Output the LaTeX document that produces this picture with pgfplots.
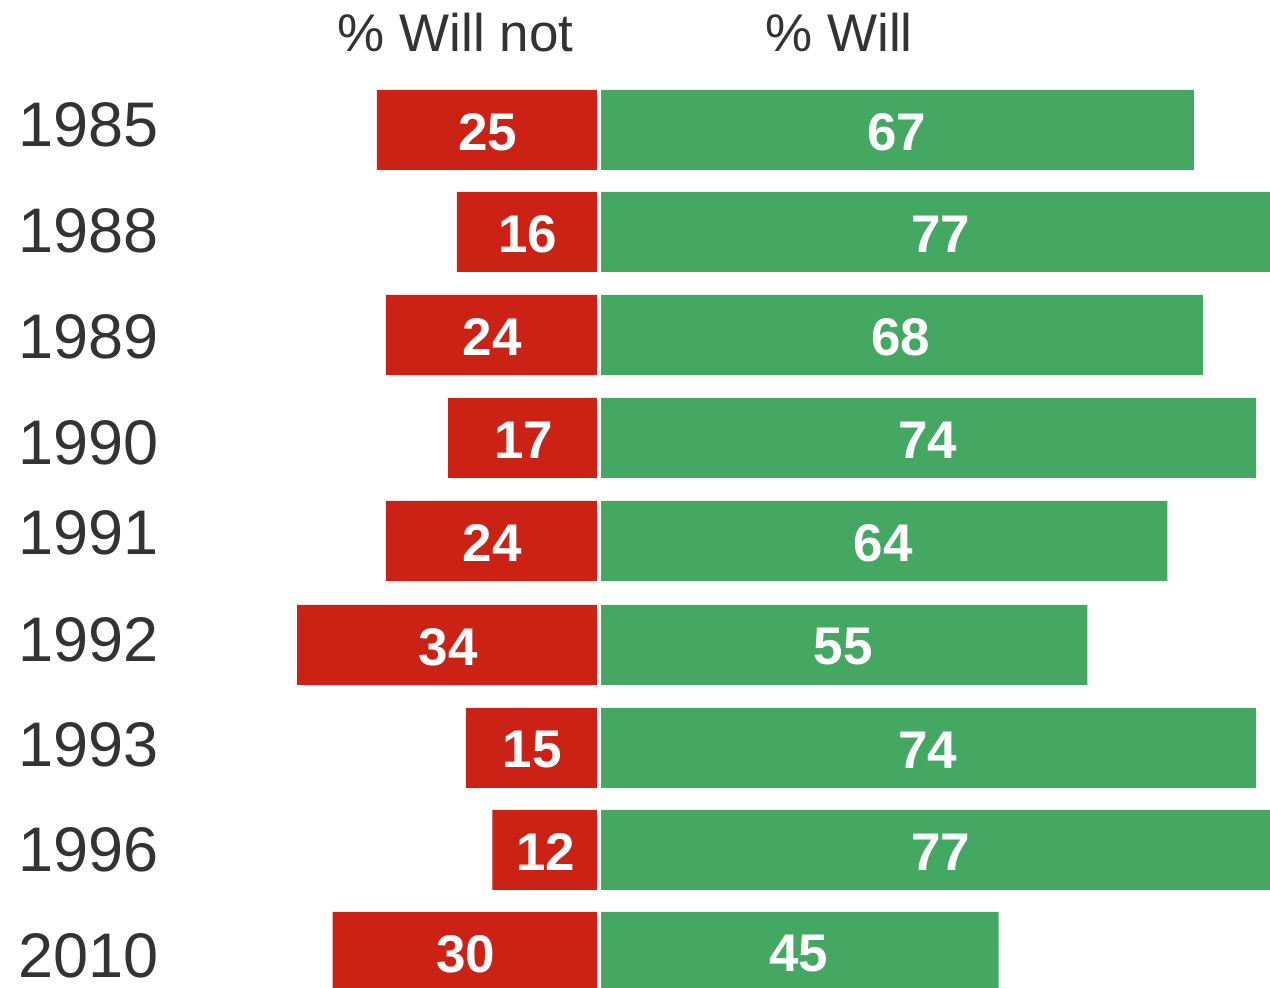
\documentclass[border=0pt]{standalone}
\usepackage{pgfplots}
\pgfplotsset{compat=1.18}
\usepackage{pgfplotstable}
\usepackage{fontspec}
\setmainfont{Liberation Sans}
\definecolor{wred}{HTML}{CC2216}
\definecolor{wgreen}{HTML}{45A862}
\definecolor{txt}{HTML}{333333}

\pgfplotstableread{
y will wont
130 67 25
232 77 16
335 68 24
438 74 17
541 64 24
645 55 34
748 74 15
850 77 12
952 45 30
}\data

\begin{document}
\begin{tikzpicture}
\begin{axis}[
 scale only axis, width=635bp, height=494bp,
 xmin=-67.45, xmax=75.56, ymin=0, ymax=988, y dir=reverse,
 axis line style={draw=none}, ticks=none, clip=true,
]
\addplot[xbar, bar width=80, bar shift=0pt, fill=wgreen, draw=none] table[x=will, y=y]{\data};
\addplot[xbar, bar width=80, bar shift=0pt, fill=wred, draw=none] table[x expr=-\thisrow{wont}, y=y]{\data};
\draw[white, line width=2bp] (axis cs:0,0) -- (axis cs:0,988);
\addplot[draw=none, mark=none, nodes near coords, point meta=explicit symbolic,
  nodes near coords style={anchor=center, inner sep=0pt, text=white, yshift=-1bp,
  font=\fontsize{26.5bp}{30bp}\selectfont\bfseries}]
  table[x expr=\thisrow{will}/2, y=y, meta=will]{\data};
\addplot[draw=none, mark=none, nodes near coords, point meta=explicit symbolic,
  nodes near coords style={anchor=center, inner sep=0pt, text=white, yshift=-1bp,
  font=\fontsize{26.5bp}{30bp}\selectfont\bfseries}]
  table[x expr=-\thisrow{wont}/2, y=y, meta=wont]{\data};
\begin{scope}[every node/.style={anchor=base west, inner sep=0pt, text=txt, font=\fontsize{31.5bp}{38bp}\selectfont}]
\node at (axis cs:-65.45,146.7) {1985};
\node at (axis cs:-65.45,252.7) {1988};
\node at (axis cs:-65.45,358.7) {1989};
\node at (axis cs:-65.45,465) {1990};
\node at (axis cs:-65.45,555) {1991};
\node at (axis cs:-65.45,661.7) {1992};
\node at (axis cs:-65.45,766.7) {1993};
\node at (axis cs:-65.45,871.7) {1996};
\node at (axis cs:-65.45,977.3) {2010};
\end{scope}
\begin{scope}[every node/.style={anchor=base, inner sep=0pt, text=txt, font=\fontsize{26.5bp}{30bp}\selectfont}]
\node at (axis cs:-16.16,51.7) {\% Will not};
\node at (axis cs:27.03,51.7) {\% Will};
\end{scope}
\end{axis}
\pgfresetboundingbox
\useasboundingbox (current axis.south west) rectangle (current axis.north east);
\end{tikzpicture}
\end{document}
